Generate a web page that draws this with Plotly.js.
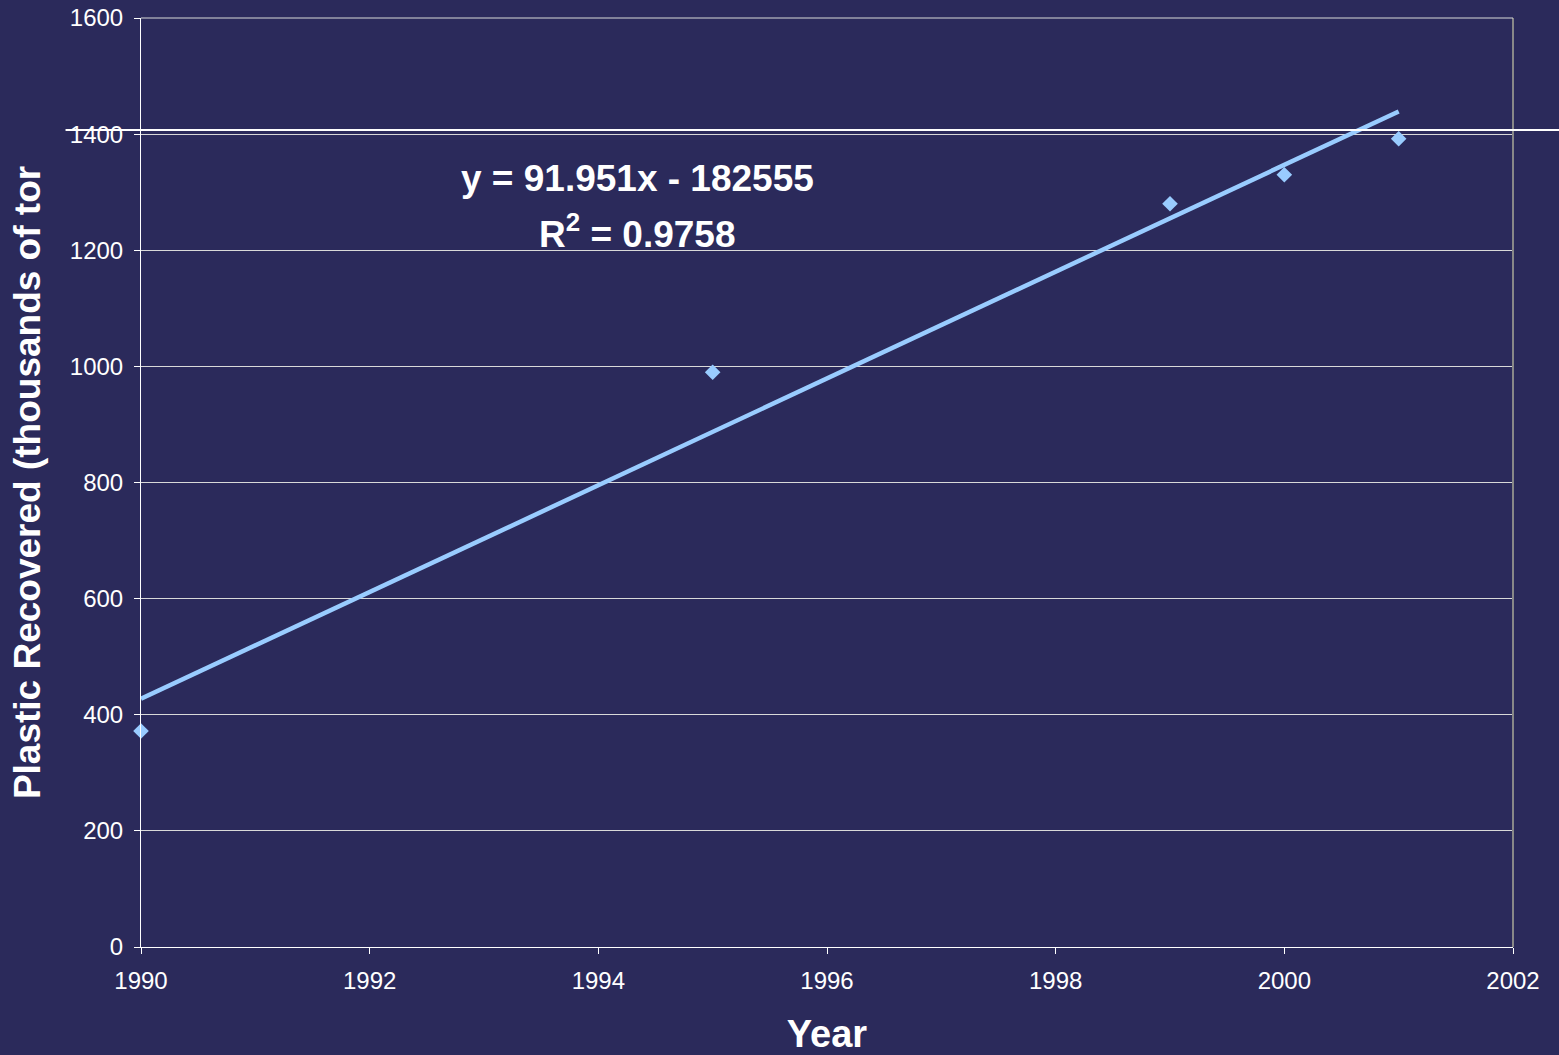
<!DOCTYPE html>
<html>
<head>
<meta charset="utf-8">
<script src="https://cdn.plot.ly/plotly-3.0.1.min.js"></script>
<style>html,body{margin:0;padding:0;background:#2b2a5b;}#chart{width:1559px;height:1055px;}</style>
</head>
<body>
<div id="chart"></div>
<script>
const years = [1990, 1995, 1999, 2000, 2001];
const recovered = [372, 990, 1280, 1330, 1392];
const trendSlope = 91.951;
const trendIntercept = -182555;
const trendYears = [1990, 2001];
const trendValues = trendYears.map(x => trendSlope * x + trendIntercept);
const xTicks = [1990, 1992, 1994, 1996, 1998, 2000, 2002];
const yTicks = [0, 200, 400, 600, 800, 1000, 1200, 1400, 1600];

const bg = '#2b2a5b';
const blue = '#99ccff';

const data = [
  {x: trendYears, y: trendValues, type: 'scatter', mode: 'lines',
   line: {color: blue, width: 4.5}, hoverinfo: 'skip', showlegend: false},
  {x: years, y: recovered, type: 'scatter', mode: 'markers', cliponaxis: false,
   marker: {symbol: 'diamond', size: 12, color: blue}, showlegend: false}
];

const layout = {
  width: 1559, height: 1055,
  paper_bgcolor: bg, plot_bgcolor: bg,
  margin: {l: 141, r: 46, t: 18, b: 108},
  font: {family: 'Liberation Sans, Arial, sans-serif', color: '#ffffff'},
  xaxis: {
    range: [1990, 2002], tickvals: xTicks, ticktext: xTicks.map(String),
    showgrid: false, zeroline: false,
    showline: true, linecolor: '#ffffff', linewidth: 1,
    ticks: 'outside', ticklen: 6, tickcolor: '#ffffff',
    ticklabelstandoff: 6,
    tickfont: {size: 24, color: '#ffffff'},
    title: {text: '<b>Year</b>', font: {size: 38, color: '#ffffff'}, standoff: 30}
  },
  yaxis: {
    range: [0, 1600], tickvals: yTicks, ticktext: yTicks.map(String),
    showgrid: true, gridcolor: '#d9d9d9', gridwidth: 1, zeroline: false,
    showline: true, linecolor: '#ffffff', linewidth: 1,
    ticks: 'outside', ticklen: 6, tickcolor: '#ffffff',
    ticklabelstandoff: 6,
    tickfont: {size: 24, color: '#ffffff'},
    title: {text: '<b>Plastic Recovered (thousands of tor</b>', font: {size: 37, color: '#ffffff'}, standoff: 17}
  },
  shapes: [
    {type: 'line', xref: 'paper', yref: 'paper', x0: 1, x1: 1, y0: 0, y1: 1,
     line: {color: '#888888', width: 2}},
    {type: 'line', xref: 'paper', yref: 'paper', x0: 0, x1: 1, y0: 1, y1: 1,
     line: {color: '#d9d9d9', width: 1}},
    {type: 'line', xref: 'paper', yref: 'paper', x0: -0.055, x1: 1.034, y0: 0.8794, y1: 0.8794,
     line: {color: '#ffffff', width: 2}}
  ],
  annotations: [
    {xref: 'x', yref: 'y', x: 1994.34, y: 1324, text: '<b>y = 91.951x - 182555</b>',
     showarrow: false, font: {size: 37, color: '#ffffff'}},
    {xref: 'x', yref: 'y', x: 1994.34, y: 1233, text: '<b>R<sup>2</sup> = 0.9758</b>',
     showarrow: false, font: {size: 37, color: '#ffffff'}}
  ]
};

Plotly.newPlot('chart', data, layout, {displayModeBar: false, staticPlot: true});
</script>
</body>
</html>
